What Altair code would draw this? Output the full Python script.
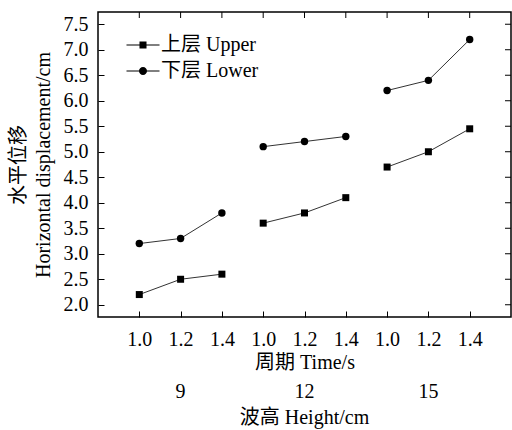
import altair as alt
import pandas as pd

heights = [9, 12, 15]
periods = ["1.0", "1.2", "1.4"]
series_names = ["上层 Upper", "下层 Lower"]
upper = [2.2, 2.5, 2.6, 3.6, 3.8, 4.1, 4.7, 5.0, 5.45]
lower = [3.2, 3.3, 3.8, 5.1, 5.2, 5.3, 6.2, 6.4, 7.2]
y_ticks = [2.0, 2.5, 3.0, 3.5, 4.0, 4.5, 5.0, 5.5, 6.0, 6.5, 7.0, 7.5]
x_ticks = list(range(1, 10))
group_centers = [2, 5, 8]

rows = []
for i in range(9):
    g = i // 3
    rows.append(dict(pos=i + 1, height=heights[g], period=periods[i % 3], series=series_names[0], value=upper[i]))
    rows.append(dict(pos=i + 1, height=heights[g], period=periods[i % 3], series=series_names[1], value=lower[i]))
df = pd.DataFrame(rows)

W, H = 413, 305
FONT = "Liberation Serif, Noto Sans CJK SC"
FS = 20
TL = 6

x_scale = alt.Scale(domain=[0, 10], nice=False, zero=False)
y_scale = alt.Scale(domain=[1.76, 7.74], nice=False, zero=False)

label_expr = "[" + ",".join("'%s'" % p for p in periods) + "][(datum.value - 1) % 3]"

# axes shifted inward by the tick length so their ticks point into the plot
x_axis = alt.Axis(values=x_ticks, labelExpr=label_expr, title="周期 Time/s",
                  labelPadding=12, titlePadding=3, labelOverlap=False,
                  ticks=True, tickSize=TL, tickWidth=1, tickColor="black", offset=-TL)
y_axis = alt.Axis(values=y_ticks, format=".1f", labelOverlap=False,
                  title=["水平位移", "Horizontal displacement/cm"],
                  labelPadding=10, titlePadding=10, titleLineHeight=25,
                  ticks=True, tickSize=TL, tickWidth=1, tickColor="black", offset=-TL)


def X(field="pos"):
    return alt.X(field + ":Q", scale=x_scale, axis=x_axis)


def Y(field="value"):
    return alt.Y(field + ":Q", scale=y_scale, axis=y_axis)


base = alt.Chart(df)

lines = base.mark_line(color="#333333", strokeWidth=1).encode(
    x=X(), y=Y(), detail=["series:N", "height:N"])

sq_pts = base.transform_filter(alt.datum.series == series_names[0]).mark_point(
    shape="square", filled=True, color="black", size=49, opacity=1
).encode(x=X(), y=Y())

ci_pts = base.transform_filter(alt.datum.series == series_names[1]).mark_point(
    shape="circle", filled=True, color="black", size=55, opacity=1
).encode(x=X(), y=Y())

bar = "M-1.27,-0.04H1.27V0.04H-1.27Z"
sq_path = bar + "M-0.27,-0.27H0.27V0.27H-0.27Z"
ci_path = bar + "M0.31,0A0.31,0.31,0,1,1,-0.31,0A0.31,0.31,0,1,1,0.31,0Z"

legend_layer = base.mark_point(filled=True, color="black", opacity=0).encode(
    x=X(), y=Y(),
    shape=alt.Shape("series:N", scale=alt.Scale(domain=series_names, range=[sq_path, ci_path]),
                    legend=alt.Legend(title=None, orient="none", legendX=32, legendY=20,
                                      padding=0, labelFont=FONT, labelFontSize=FS,
                                      labelColor="black", labelOffset=5, rowPadding=3,
                                      symbolSize=676, symbolStrokeWidth=0,
                                      symbolFillColor="black",
                                      symbolOpacity=1)),
)

# inward tick marks on the top and right sides (mirror of the axes)
xt = pd.DataFrame({"pos": x_ticks})
yt = pd.DataFrame({"value": y_ticks})
TSIZE = 144  # path unit length = sqrt(size)/2 = 6 px


def tick_layer(data, shape, enc):
    return alt.Chart(data).mark_point(shape=shape, filled=False, color="black",
                                      strokeWidth=1, size=TSIZE, opacity=1).encode(**enc)


top_ticks = tick_layer(xt, "M0,0L0,1", dict(x=X(), y=alt.value(0)))
right_ticks = tick_layer(yt, "M0,0L-1,0", dict(y=Y(), x=alt.value(W)))

gdf = pd.DataFrame({"pos": group_centers, "height": [str(h) for h in heights]})
group_labels = alt.Chart(gdf).mark_text(font=FONT, fontSize=FS, color="black", baseline="middle").encode(
    x=X(), y=alt.value(H + 75), text="height:N")

htitle = alt.Chart(pd.DataFrame({"t": ["波高 Height/cm"]})).mark_text(
    font=FONT, fontSize=FS, color="black", baseline="middle").encode(
    x=alt.value(W / 2), y=alt.value(H + 101), text="t:N")

chart = alt.layer(
    lines, sq_pts, ci_pts, legend_layer,
    top_ticks, right_ticks,
    group_labels, htitle,
).properties(
    width=W, height=H,
    background="white",
    autosize=alt.AutoSizeParams(type="none"),
    padding={"left": 98, "top": 12, "right": 1, "bottom": 113},
).configure_view(
    stroke="black", strokeWidth=1.5
).configure_axis(
    labelFont=FONT, labelFontSize=FS, labelColor="black",
    titleFont=FONT, titleFontSize=FS, titleColor="black", titleFontWeight="normal",
    domain=False, grid=False,
)

chart.save("out.html", embed_options={"renderer": "svg", "actions": False})
